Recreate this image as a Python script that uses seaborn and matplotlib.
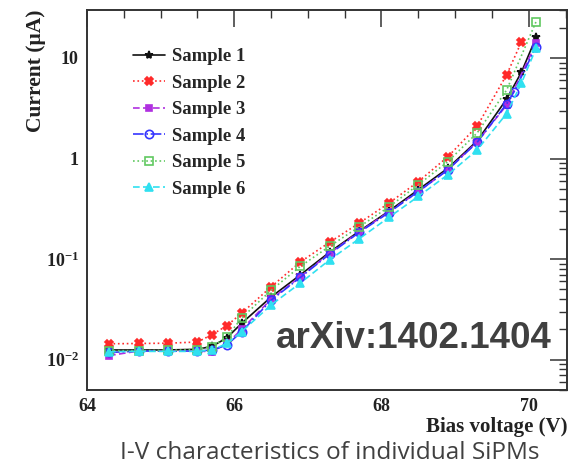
import numpy as np
import pandas as pd
import matplotlib
matplotlib.use("Agg")
import matplotlib.pyplot as plt
import seaborn as sns
from matplotlib.ticker import LogLocator, MultipleLocator, NullFormatter

# ---- data ----
samples = ["Sample 1", "Sample 2", "Sample 3", "Sample 4", "Sample 5", "Sample 6"]
v_base = [64.3, 64.7, 65.1, 65.5, 65.7, 65.9, 66.1, 66.5, 66.9, 67.3, 67.7, 68.1, 68.5, 68.9, 69.3, 69.7]

v1 = v_base + [69.9, 70.1]
i1 = [0.0125, 0.0125, 0.0125, 0.0127, 0.0136, 0.0165, 0.023, 0.042, 0.070, 0.118, 0.19, 0.30, 0.49, 0.80, 1.5, 3.9, 7.2, 16.0]
v2 = v_base + [69.9]
i2 = [0.0144, 0.0145, 0.0146, 0.0150, 0.0178, 0.0218, 0.029, 0.053, 0.094, 0.148, 0.229, 0.36, 0.59, 1.04, 2.1, 6.8, 14.4]
v3 = v_base + [70.1]
i3 = [0.0110, 0.0122, 0.0122, 0.0122, 0.0120, 0.0145, 0.020, 0.040, 0.067, 0.115, 0.187, 0.295, 0.47, 0.77, 1.47, 3.4, 14.0]
v4 = v_base + [69.8, 70.1]
i4 = [0.0118, 0.0122, 0.0122, 0.0122, 0.0125, 0.0140, 0.019, 0.039, 0.066, 0.113, 0.185, 0.29, 0.47, 0.77, 1.45, 3.5, 4.6, 13.0]
v5 = v_base + [70.1]
i5 = [0.0123, 0.0123, 0.0124, 0.0126, 0.0135, 0.0168, 0.026, 0.049, 0.085, 0.135, 0.21, 0.33, 0.55, 0.93, 1.8, 4.8, 23.0]
v6 = v_base + [69.9, 70.1]
i6 = [0.0120, 0.0121, 0.0121, 0.0121, 0.0125, 0.0145, 0.019, 0.035, 0.058, 0.099, 0.16, 0.26, 0.42, 0.69, 1.22, 2.8, 5.6, 12.5]

voltages = [v1, v2, v3, v4, v5, v6]
currents = [i1, i2, i3, i4, i5, i6]

x_ticks = [64, 66, 68, 70]
y_ticks = [0.01, 0.1, 1, 10]
y_tick_labels = [r"$\mathbf{10^{-2}}$", r"$\mathbf{10^{-1}}$", "1", "10"]

# ---- styles ----
styles = [
    dict(color="#111111", marker="*", linestyle="-", ms=6, mfc="#111111"),
    dict(color="#ff2a2a", marker="X", linestyle=":", ms=6, mfc="#ff2a2a"),
    dict(color="#b030e0", marker="s", linestyle=(0, (4, 2)), ms=5, mfc="#b030e0"),
    dict(color="#3535ff", marker="o", linestyle="-.", ms=6, mfc="none"),
    dict(color="#60c860", marker="s", linestyle=":", ms=6, mfc="none"),
    dict(color="#30e0f0", marker="^", linestyle=(0, (4, 2)), ms=6, mfc="#30e0f0"),
]

sns.set_theme(style="white")
plt.rcParams["font.family"] = ["Liberation Serif", "DejaVu Serif"]
plt.rcParams["mathtext.fontset"] = "custom"
plt.rcParams["mathtext.rm"] = "Liberation Serif:bold"
plt.rcParams["mathtext.bf"] = "Liberation Serif:bold"
plt.rcParams["mathtext.it"] = "Liberation Serif:bold"

fig = plt.figure(figsize=(5.76, 4.69), dpi=100)
ax = fig.add_axes([87 / 576, 1 - 390 / 469, (567 - 87) / 576, (390 - 10) / 469])

for name, v, cur, st in zip(samples, voltages, currents, styles):
    df = pd.DataFrame({"V": v, "I": cur})
    sns.lineplot(data=df, x="V", y="I", ax=ax, label=name, sort=False,
                 errorbar=None, color=st["color"], marker=st["marker"],
                 linestyle=st["linestyle"], markersize=st["ms"],
                 markerfacecolor=st["mfc"], markeredgecolor=st["color"],
                 markeredgewidth=1.2, linewidth=1.2)

ax.set_yscale("log")
ax.set_xlim(64, 70.52)
ax.set_ylim(0.005, 30)

ax.set_xticks(x_ticks)
ax.set_xticklabels([str(t) for t in x_ticks])
ax.xaxis.set_minor_locator(MultipleLocator(0.5))
ax.set_yticks(y_ticks)
ax.set_yticklabels(y_tick_labels)
ax.yaxis.set_minor_locator(LogLocator(base=10, subs=np.arange(2, 10)))
ax.yaxis.set_minor_formatter(NullFormatter())

for lab in ax.get_xticklabels() + ax.get_yticklabels():
    lab.set_fontweight("bold")
    lab.set_fontsize(13)
    lab.set_color("#222222")

ax.tick_params(which="major", direction="in", length=12, width=1.1, color="#333333",
               top=True, right=True, pad=6)
ax.tick_params(which="minor", direction="in", length=6, width=1.0, color="#333333",
               top=True, right=True)
for sp in ax.spines.values():
    sp.set_color("#333333")
    sp.set_linewidth(1.4)

ax.set_xlabel("")
ax.set_ylabel("")
fig.text(567 / 576, 1 - 427 / 469, "Bias voltage (V)", ha="right", va="center",
         fontsize=15, fontweight="bold", color="#222222")
fig.text(36 / 576, 1 - 10 / 469, "Current (\u03bcA)", ha="center", va="top",
         rotation=90, fontsize=15.5, fontweight="bold", color="#222222")

leg = ax.legend(loc="upper left", bbox_to_anchor=(133 / 576, 1 - 48 / 469),
                bbox_transform=fig.transFigure, frameon=False,
                prop={"family": "Liberation Serif", "weight": "bold", "size": 13.5},
                handlelength=1.7, handletextpad=0.4, labelspacing=0.5,
                borderpad=0, borderaxespad=0)

fig.text(276 / 576, 1 - 348 / 469, "arXiv:1402.1404", ha="left", va="baseline",
         fontsize=26.5, fontweight="bold", color="#404040", family="Liberation Sans")
fig.text(330 / 576, 1 - 459 / 469, "I-V characteristics of individual SiPMs",
         ha="center", va="baseline", fontsize=17.6, color="#404040", family="Open Sans")

fig.savefig("out.png", dpi=100)
